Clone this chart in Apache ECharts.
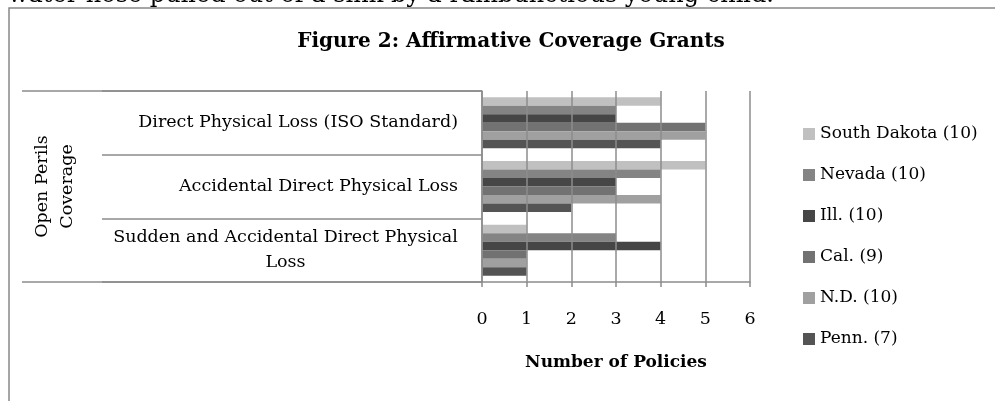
<!DOCTYPE html>
<html>
<head>
<meta charset="utf-8">
<script src="https://cdn.jsdelivr.net/npm/echarts@6/dist/echarts.min.js"></script>
<style>
  html,body{margin:0;padding:0;background:#fff;}
  #main{width:995px;height:401px;}
</style>
</head>
<body>
<div id="main"></div>
<script>
// categories top to bottom
var categories = ['Direct Physical Loss (ISO Standard)', 'Accidental Direct Physical Loss', 'Sudden and Accidental Direct Physical Loss'];
var seriesNames = ['South Dakota (10)', 'Nevada (10)', 'Ill. (10)', 'Cal. (9)', 'N.D. (10)', 'Penn. (7)'];
var southDakota = [4, 5, 1];
var nevada = [3, 4, 3];
var ill = [3, 3, 4];
var cal = [5, 3, 1];
var nd = [5, 4, 1];
var penn = [4, 2, 1];
var xTicks = [0, 1, 2, 3, 4, 5, 6];

var colors = ['#c0c0c0', '#848484', '#464646', '#727272', '#a0a0a0', '#545454'];
var font = 'DejaVu Serif';
var fs = 17.5;
var gray = '#8c8c8c';

var ctx = document.createElement('canvas').getContext('2d');
ctx.font = fs + 'px "' + font + '"';

// long labels wrap, last word on its own line, centered under the first
function wrapLabel(v){
  if(v.length < 38) return v;
  var cut = v.lastIndexOf(' ');
  var first = v.slice(0, cut), second = v.slice(cut + 1);
  return '{c|' + first + '}\n{c|' + second + '}';
}
var wrapWidth = Math.ceil(ctx.measureText('Sudden and Accidental Direct Physical').width);

var values = [southDakota, nevada, ill, cal, nd, penn];
var series = [];
for(var i = 0; i < seriesNames.length; i++){
  series.push({
    name: seriesNames[i],
    type: 'bar',
    data: values[i],
    barGap: '0%',
    barCategoryGap: '20%',
    itemStyle: {color: colors[i]}
  });
}

var chart = echarts.init(document.getElementById('main'));
chart.setOption({
  animation: false,
  textStyle: {fontFamily: font},
  title: {
    text: 'Figure 2: Affirmative Coverage Grants',
    left: 506,
    textAlign: 'center',
    top: 27,
    textStyle: {fontFamily: font, fontWeight: 'bold', fontSize: 20, color: '#000'}
  },
  graphic: [
    {type: 'rect', shape: {x: 9, y: 8, width: 1000, height: 410}, style: {fill: 'none', stroke: '#888', lineWidth: 1.5}, silent: true},
    {type: 'text', x: 8, y: 8, style: {text: 'water hose pulled out of a sink by a rambunctious young child.', font: '24px "' + font + '"', fill: '#000', verticalAlign: 'bottom'}}
  ],
  legend: {
    orient: 'vertical',
    left: 798,
    top: 119,
    icon: 'rect',
    itemWidth: 12,
    itemHeight: 12,
    itemGap: 21,
    data: seriesNames,
    textStyle: {fontFamily: font, fontSize: 17, lineHeight: 20, color: '#000'}
  },
  grid: {left: 482, top: 91, width: 268, height: 191},
  xAxis: {
    type: 'value',
    min: xTicks[0],
    max: xTicks[xTicks.length - 1],
    interval: 1,
    z: 3,
    axisLine: {show: true, lineStyle: {color: gray, width: 1.5}},
    axisTick: {show: true, length: 5, lineStyle: {color: gray, width: 1.5}},
    splitLine: {show: true, lineStyle: {color: gray, width: 1.5}},
    axisLabel: {margin: 28, fontSize: fs, color: '#000', fontFamily: font},
    name: 'Number of Policies',
    nameLocation: 'middle',
    nameGap: 72,
    nameTextStyle: {fontFamily: font, fontWeight: 'bold', fontSize: 17, color: '#000'}
  },
  yAxis: [{
    type: 'category',
    data: categories,
    inverse: true,
    z: 3,
    axisLine: {show: true, lineStyle: {color: gray, width: 1.5}},
    axisTick: {show: true, length: 380, interval: 0, lineStyle: {color: gray, width: 1.5}},
    splitLine: {show: false},
    axisLabel: {
      margin: 24,
      fontSize: fs,
      color: '#000',
      lineHeight: 25,
      interval: 0,
      formatter: wrapLabel,
      rich: {c: {width: wrapWidth, align: 'center', fontSize: fs, lineHeight: 25, fontFamily: font, color: '#000'}}
    },
    name: 'Open Perils\nCoverage',
    nameLocation: 'middle',
    nameRotate: 90,
    nameGap: 402,
    nameTextStyle: {fontFamily: font, fontSize: fs, lineHeight: 25, color: '#000', align: 'center'}
  }, {
    type: 'value',
    min: 0,
    max: 1,
    interval: 1,
    position: 'left',
    axisLine: {show: false},
    axisTick: {show: true, length: 460, lineStyle: {color: gray, width: 1.5}},
    axisLabel: {show: false},
    splitLine: {show: false}
  }],
  series: series
});
</script>
</body>
</html>
